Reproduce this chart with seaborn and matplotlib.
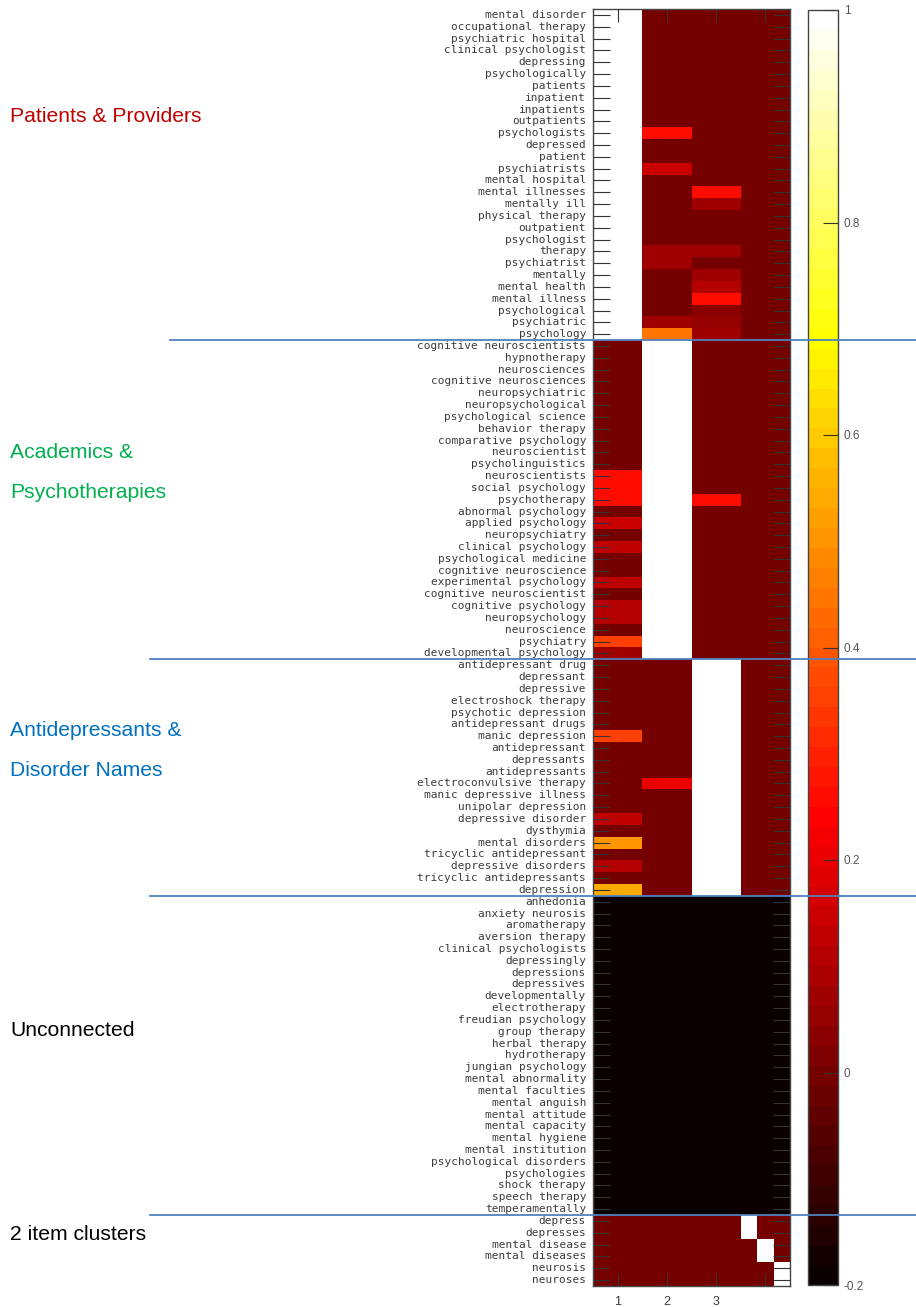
import numpy as np
import matplotlib
matplotlib.use("Agg")
import matplotlib.pyplot as plt
import seaborn as sns
from matplotlib.lines import Line2D
from matplotlib.transforms import blended_transform_factory

# ---- cluster membership scores: one row per term, columns = clusters 1..4 ----
patients_words = [
    "mental disorder", "occupational therapy", "psychiatric hospital", "clinical psychologist",
    "depressing", "psychologically", "patients", "inpatient", "inpatients", "outpatients",
    "psychologists", "depressed", "patient", "psychiatrists", "mental hospital",
    "mental illnesses", "mentally ill", "physical therapy", "outpatient", "psychologist",
    "therapy", "psychiatrist", "mentally", "mental health", "mental illness",
    "psychological", "psychiatric", "psychology",
]
patients_scores = [
    [1, 0.00, 0.00, 0], [1, 0.00, 0.00, 0], [1, 0.00, 0.00, 0], [1, 0.00, 0.00, 0],
    [1, 0.00, 0.00, 0], [1, 0.00, 0.00, 0], [1, 0.00, 0.00, 0], [1, 0.00, 0.00, 0],
    [1, 0.00, 0.00, 0], [1, 0.00, 0.00, 0], [1, 0.26, 0.00, 0], [1, 0.00, 0.00, 0],
    [1, 0.00, 0.00, 0], [1, 0.15, 0.00, 0], [1, 0.00, 0.00, 0], [1, 0.00, 0.26, 0],
    [1, 0.00, 0.08, 0], [1, 0.00, 0.00, 0], [1, 0.00, 0.00, 0], [1, 0.00, 0.00, 0],
    [1, 0.08, 0.08, 0], [1, 0.07, -0.01, 0], [1, 0.00, 0.07, 0], [1, 0.00, 0.11, 0],
    [1, 0.00, 0.25, 0], [1, 0.00, 0.04, 0], [1, 0.07, 0.05, 0], [1, 0.44, 0.08, 0],
]

academics_words = [
    "cognitive neuroscientists", "hypnotherapy", "neurosciences", "cognitive neurosciences",
    "neuropsychiatric", "neuropsychological", "psychological science", "behavior therapy",
    "comparative psychology", "neuroscientist", "psycholinguistics", "neuroscientists",
    "social psychology", "psychotherapy", "abnormal psychology", "applied psychology",
    "neuropsychiatry", "clinical psychology", "psychological medicine", "cognitive neuroscience",
    "experimental psychology", "cognitive neuroscientist", "cognitive psychology",
    "neuropsychology", "neuroscience", "psychiatry", "developmental psychology",
]
academics_scores = [
    [0.00, 1, 0, 0], [0.00, 1, 0, 0], [0.00, 1, 0, 0], [0.00, 1, 0, 0],
    [0.00, 1, 0, 0], [0.00, 1, 0, 0], [0.00, 1, 0, 0], [0.00, 1, 0, 0],
    [0.00, 1, 0, 0], [0.00, 1, 0, 0], [0.00, 1, 0, 0], [0.26, 1, 0, 0],
    [0.26, 1, 0, 0], [0.26, 1, 0.26, 0], [-0.01, 1, 0, 0], [0.14, 1, 0, 0],
    [-0.01, 1, 0, 0], [0.13, 1, 0, 0], [-0.01, 1, 0, 0], [-0.01, 1, 0, 0],
    [0.12, 1, 0, 0], [-0.01, 1, 0, 0], [0.10, 1, 0, 0], [0.10, 1, 0, 0],
    [0.00, 1, 0, 0], [0.35, 1, 0, 0], [0.08, 1, 0, 0],
]

antidep_words = [
    "antidepressant drug", "depressant", "depressive", "electroshock therapy",
    "psychotic depression", "antidepressant drugs", "manic depression", "antidepressant",
    "depressants", "antidepressants", "electroconvulsive therapy", "manic depressive illness",
    "unipolar depression", "depressive disorder", "dysthymia", "mental disorders",
    "tricyclic antidepressant", "depressive disorders", "tricyclic antidepressants", "depression",
]
antidep_scores = [
    [0.00, 0.00, 1, 0], [0.00, 0.00, 1, 0], [0.00, 0.00, 1, 0], [0.00, 0.00, 1, 0],
    [0.00, 0.00, 1, 0], [0.00, 0.00, 1, 0], [0.35, 0.00, 1, 0], [0.00, 0.00, 1, 0],
    [0.00, 0.00, 1, 0], [0.00, 0.00, 1, 0], [0.00, 0.20, 1, 0], [0.00, 0.00, 1, 0],
    [0.00, 0.00, 1, 0], [0.13, 0.00, 1, 0], [0.00, 0.00, 1, 0], [0.50, 0.00, 1, 0],
    [0.00, 0.00, 1, 0], [0.10, 0.00, 1, 0], [0.00, 0.00, 1, 0], [0.54, 0.00, 1, 0],
]

unconnected_words = [
    "anhedonia", "anxiety neurosis", "aromatherapy", "aversion therapy",
    "clinical psychologists", "depressingly", "depressions", "depressives",
    "developmentally", "electrotherapy", "freudian psychology", "group therapy",
    "herbal therapy", "hydrotherapy", "jungian psychology", "mental abnormality",
    "mental faculties", "mental anguish", "mental attitude", "mental capacity",
    "mental hygiene", "mental institution", "psychological disorders", "psychologies",
    "shock therapy", "speech therapy", "temperamentally",
]
unconnected_scores = [[-0.2, -0.2, -0.2, -0.2] for _ in unconnected_words]

# two-item clusters: cluster 4 is split into one sub-column per pair
pair_words = ["depress", "depresses", "mental disease", "mental diseases", "neurosis", "neuroses"]
pair_scores = [
    [0, 0, 0, 1, 0, 0], [0, 0, 0, 1, 0, 0],
    [0, 0, 0, 0, 1, 0], [0, 0, 0, 0, 1, 0],
    [0, 0, 0, 0, 0, 1], [0, 0, 0, 0, 0, 1],
]

cluster_ticks = ["1", "2", "3", ""]
cbar_ticks = [-0.2, 0, 0.2, 0.4, 0.6, 0.8, 1]
cbar_ticklabels = ["-0.2", "0", "0.2", "0.4", "0.6", "0.8", "1"]

# ---- assemble matrix: each cluster column is 3 sub-columns wide ----
rows = []
for grp in (patients_scores, academics_scores, antidep_scores, unconnected_scores):
    for r in grp:
        rows.append(np.repeat(np.asarray(r, float), 3))
for r in pair_scores:
    r = np.asarray(r, float)
    rows.append(np.concatenate([np.repeat(r[:3], 3), r[3:]]))
matrix = np.vstack(rows)
words = patients_words + academics_words + antidep_words + unconnected_words + pair_words
n_rows = len(words)

W, H = 916, 1307
fig = plt.figure(figsize=(W / 100, H / 100), dpi=100)
ax = fig.add_axes([593 / W, 1 - 1286 / H, 197 / W, 1277 / H])
cax = fig.add_axes([808 / W, 1 - 1285 / H, 30 / W, 1275 / H])

cmap = plt.get_cmap("hot", 64)
sns.heatmap(matrix, ax=ax, cbar_ax=cax, cmap=cmap, vmin=-0.2, vmax=1,
            xticklabels=False, yticklabels=words)

tick_c = "#333333"
lab_c = "#3c3c3c"
ax.set_yticks(np.arange(n_rows) + 0.5)
ax.set_yticklabels(words, rotation=0, va="center", ha="right",
                   fontfamily="DejaVu Sans Mono", fontsize=8, color=lab_c)
ax.set_xticks([1.5, 4.5, 7.5, 10.5])
ax.set_xticklabels(cluster_ticks, fontfamily="Liberation Sans", fontsize=9, color=lab_c)
ax.tick_params(axis="y", direction="in", left=True, right=True, length=12,
               width=0.8, color=tick_c, pad=5)
ax.tick_params(axis="x", direction="in", bottom=True, top=True, length=9.5,
               width=0.8, color=tick_c, pad=7)
for s in ax.spines.values():
    s.set_visible(True)
    s.set_color("#444444")
    s.set_linewidth(1.0)

cbar = ax.collections[0].colorbar
cbar.set_ticks(cbar_ticks)
cbar.set_ticklabels(cbar_ticklabels)
cbar.ax.tick_params(direction="in", length=11, width=0.8, colors=tick_c, pad=4)
for t in cbar.ax.get_yticklabels():
    t.set_fontfamily("Liberation Sans")
    t.set_fontsize(8.5)
    t.set_color("#555555")
cbar.outline.set_edgecolor("#444444")
cbar.outline.set_linewidth(1.0)

# ---- group separators and group names ----
trans = blended_transform_factory(fig.transFigure, ax.transData)
sep_rows = [len(patients_words),
            len(patients_words) + len(academics_words),
            len(patients_words) + len(academics_words) + len(antidep_words),
            n_rows - len(pair_words)]
sep_starts = [170 / W, 150 / W, 150 / W, 150 / W]
for yrow, x0 in zip(sep_rows, sep_starts):
    fig.add_artist(Line2D([x0, 1.0], [yrow, yrow], transform=trans,
                          color="#4f81bd", lw=1.3, clip_on=False, zorder=10))

group_text = [
    ("Patients & Providers", 117, "#c00000"),
    ("Academics &", 453, "#00b050"),
    ("Psychotherapies", 493, "#00b050"),
    ("Antidepressants &", 731, "#0070c0"),
    ("Disorder Names", 771, "#0070c0"),
    ("Unconnected", 1031, "black"),
    ("2 item clusters", 1235, "black"),
]
for txt, ypx, col in group_text:
    fig.text(10 / W, 1 - ypx / H, txt, color=col, fontsize=15.2,
             fontfamily="Liberation Sans", va="center", ha="left")

fig.savefig("out.png", dpi=100)
